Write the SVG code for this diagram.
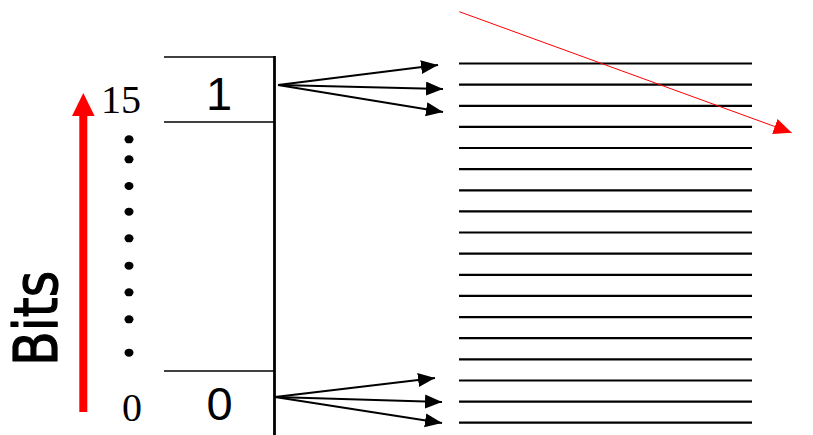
<svg xmlns="http://www.w3.org/2000/svg" width="813" height="435" viewBox="0 0 813 435">
<style>
.ln{stroke:#000;stroke-width:2.2;fill:none}
.bx{stroke:#000;stroke-width:1.6;fill:none}
.ar{stroke:#000;stroke-width:1.8;fill:none;marker-end:url(#ah)}
.dot{fill:#000}
.serif{font-family:"Liberation Serif",serif;font-size:40px;fill:#000}
.sans{font-family:"Liberation Sans",Arial,sans-serif;font-size:47px;fill:#000;text-anchor:middle}
</style>
<defs>
<marker id="ah" markerUnits="userSpaceOnUse" markerWidth="20" markerHeight="16" refX="17" refY="7" orient="auto"><path d="M0,0 L17,7 L0,14 z" fill="#000"/></marker>
<marker id="rh" markerUnits="userSpaceOnUse" markerWidth="20" markerHeight="18" refX="18" refY="8" orient="auto"><path d="M0,0 L18,8 L0,16 z" fill="#f00"/></marker>
</defs>
<rect width="813" height="435" fill="#fff"/>
<g id="bits-axis">
<rect x="79.3" y="114" width="8" height="298" fill="#f00"/>
<polygon points="83.3,93 72,116 94.6,116" fill="#f00"/>
<text transform="translate(57,366) rotate(-90)" font-family="'DejaVu Sans',sans-serif" font-size="60" textLength="95" lengthAdjust="spacingAndGlyphs" fill="#000" stroke="#000" stroke-width="1.2" stroke-linejoin="round">Bits</text>
</g>
<g id="labels">
<text class="serif" x="101" y="113">15</text>
<text class="serif" x="122" y="421">0</text>
<g id="dots">
<ellipse class="dot" cx="129" cy="139.3" rx="4.5" ry="4"/>
<ellipse class="dot" cx="129" cy="159.3" rx="4.5" ry="4"/>
<ellipse class="dot" cx="129" cy="186" rx="4.5" ry="4"/>
<ellipse class="dot" cx="129" cy="211.7" rx="4.5" ry="4"/>
<ellipse class="dot" cx="129" cy="238.3" rx="4.5" ry="4"/>
<ellipse class="dot" cx="129" cy="265.7" rx="4.5" ry="4"/>
<ellipse class="dot" cx="129" cy="292.3" rx="4.5" ry="4"/>
<ellipse class="dot" cx="129" cy="319.3" rx="4.5" ry="4"/>
<ellipse class="dot" cx="129" cy="352.7" rx="4.5" ry="4"/>
</g>
</g>
<g id="register">
<line x1="274.5" y1="56" x2="274.5" y2="435" stroke="#000" stroke-width="2.8"/>
<line class="bx" x1="164" y1="57" x2="274" y2="57"/>
<line class="bx" x1="164" y1="122" x2="274" y2="122"/>
<line class="bx" x1="164" y1="371" x2="274" y2="371"/>
<text class="sans" x="219" y="110">1</text>
<text class="sans" x="219.5" y="420">0</text>
</g>
<g id="lines">
<line class="ln" x1="459" y1="63.5" x2="752" y2="63.5"/>
<line class="ln" x1="459" y1="84.6" x2="752" y2="84.6"/>
<line class="ln" x1="459" y1="105.8" x2="752" y2="105.8"/>
<line class="ln" x1="459" y1="126.9" x2="752" y2="126.9"/>
<line class="ln" x1="459" y1="148" x2="752" y2="148"/>
<line class="ln" x1="459" y1="169.2" x2="752" y2="169.2"/>
<line class="ln" x1="459" y1="190.3" x2="752" y2="190.3"/>
<line class="ln" x1="459" y1="211.4" x2="752" y2="211.4"/>
<line class="ln" x1="459" y1="232.5" x2="752" y2="232.5"/>
<line class="ln" x1="459" y1="253.7" x2="752" y2="253.7"/>
<line class="ln" x1="459" y1="274.8" x2="752" y2="274.8"/>
<line class="ln" x1="459" y1="295.9" x2="752" y2="295.9"/>
<line class="ln" x1="459" y1="317.1" x2="752" y2="317.1"/>
<line class="ln" x1="459" y1="338.2" x2="752" y2="338.2"/>
<line class="ln" x1="459" y1="359.3" x2="752" y2="359.3"/>
<line class="ln" x1="459" y1="380.5" x2="752" y2="380.5"/>
<line class="ln" x1="459" y1="401.6" x2="752" y2="401.6"/>
<line class="ln" x1="459" y1="422.7" x2="752" y2="422.7"/>
</g>
<g id="connectors">
<line class="ar" x1="278" y1="85" x2="438" y2="65"/>
<line class="ar" x1="278" y1="85" x2="443" y2="89"/>
<line class="ar" x1="278" y1="85" x2="443" y2="112"/>
<line class="ar" x1="275" y1="397" x2="435" y2="378"/>
<line class="ar" x1="275" y1="397" x2="442" y2="402"/>
<line class="ar" x1="275" y1="397" x2="442" y2="423"/>
<line x1="459.3" y1="11.7" x2="791.7" y2="132.7" stroke="#f00" stroke-width="1" marker-end="url(#rh)"/>
</g>
</svg>
